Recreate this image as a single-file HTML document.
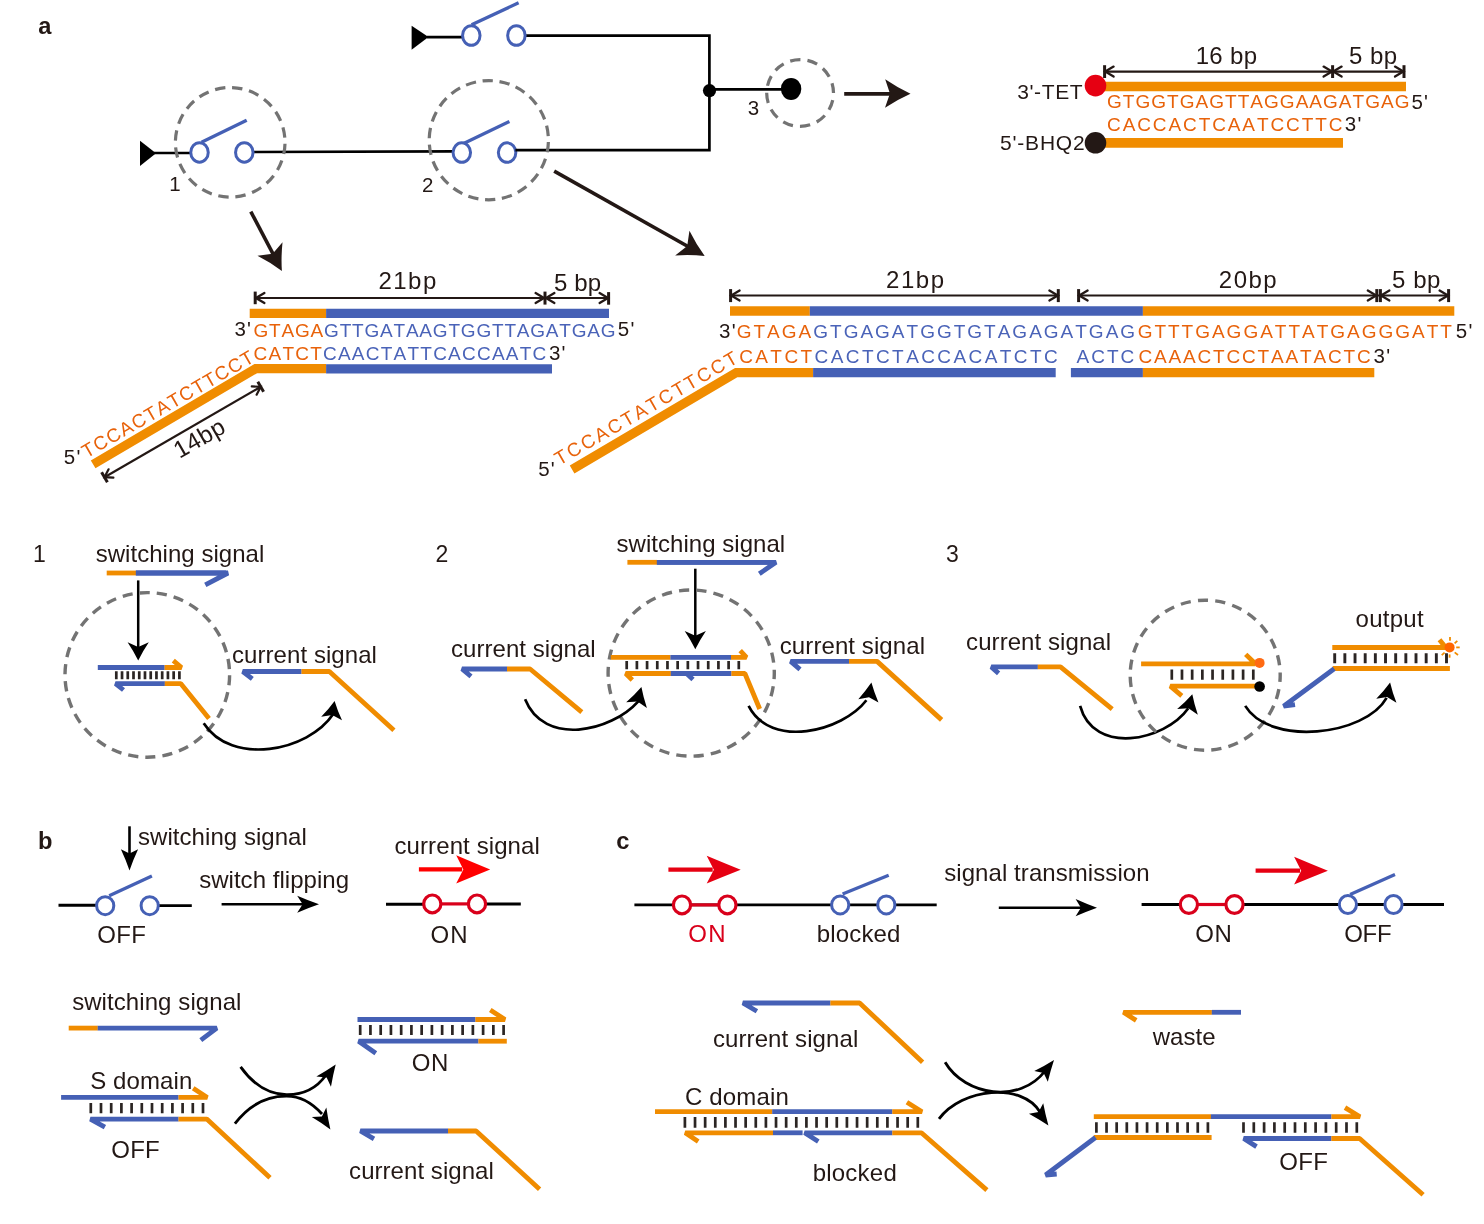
<!DOCTYPE html>
<html><head><meta charset="utf-8"><style>
html,body{margin:0;padding:0;background:#fff;}
svg{display:block;will-change:transform;font-family:"Liberation Sans",sans-serif;}
text{font-kerning:none;font-feature-settings:"kern" 0;}
</style></head><body>
<svg width="1484" height="1224" viewBox="0 0 1484 1224">
<rect width="1484" height="1224" fill="#fff"/>
<text x="38.21" y="34" font-size="23.7" fill="#231815" font-weight="bold">a</text>
<polygon points="140,140.8 156,153.2 140,166" fill="#000"/>
<line x1="154" y1="153" x2="191.2" y2="153" stroke="#000" stroke-width="2.7" stroke-linecap="butt"/>
<line x1="252.6" y1="152" x2="453.4" y2="151.3" stroke="#000" stroke-width="2.7" stroke-linecap="butt"/>
<ellipse cx="199.5" cy="152.4" rx="8.75" ry="9.75" fill="none" stroke="#4560B5" stroke-width="3"/>
<ellipse cx="244.3" cy="152.4" rx="8.75" ry="9.75" fill="none" stroke="#4560B5" stroke-width="3"/>
<line x1="201.5" y1="142.3" x2="246.7" y2="120.2" stroke="#4560B5" stroke-width="3.3" stroke-linecap="butt"/>
<circle cx="230.2" cy="142.3" r="54.8" fill="none" stroke="#737373" stroke-width="3.2" stroke-dasharray="10.4 6.82" stroke-dashoffset="15.79"/>
<text x="169.34" y="190.5" font-size="20.5" fill="#231815">1</text>
<ellipse cx="461.8" cy="152.6" rx="8.75" ry="9.75" fill="none" stroke="#4560B5" stroke-width="3"/>
<ellipse cx="507.1" cy="152.6" rx="8.75" ry="9.75" fill="none" stroke="#4560B5" stroke-width="3"/>
<line x1="463.6" y1="143.4" x2="509.4" y2="121.4" stroke="#4560B5" stroke-width="3.3" stroke-linecap="butt"/>
<polyline points="515.4,150.2 709.4,150.2 709.4,35.7 524.6,35.7" fill="none" stroke="#000" stroke-width="2.7" stroke-linecap="butt" stroke-linejoin="miter"/>
<circle cx="488.8" cy="140.2" r="59.6" fill="none" stroke="#737373" stroke-width="3.2" stroke-dasharray="10.4 6.62" stroke-dashoffset="15.23"/>
<text x="421.97" y="192.4" font-size="20.5" fill="#231815">2</text>
<polygon points="411.6,25.8 428.5,37 411.6,49.8" fill="#000"/>
<line x1="427" y1="37.2" x2="462.5" y2="37.2" stroke="#000" stroke-width="2.7" stroke-linecap="butt"/>
<ellipse cx="471.3" cy="35.5" rx="8.75" ry="9.75" fill="none" stroke="#4560B5" stroke-width="3"/>
<ellipse cx="516.4" cy="35.5" rx="8.75" ry="9.75" fill="none" stroke="#4560B5" stroke-width="3"/>
<line x1="471.6" y1="24.8" x2="518.6" y2="2.8" stroke="#4560B5" stroke-width="3.3" stroke-linecap="butt"/>
<circle cx="709.5" cy="90.6" r="6.6" fill="#000"/>
<line x1="709.5" y1="89.4" x2="782" y2="89.4" stroke="#000" stroke-width="2.7" stroke-linecap="butt"/>
<ellipse cx="791.1" cy="88.9" rx="10.2" ry="11" fill="#000"/>
<circle cx="800.1" cy="93" r="33.4" fill="none" stroke="#737373" stroke-width="3.2" stroke-dasharray="10.4 7.09" stroke-dashoffset="10.34"/>
<text x="747.72" y="114.6" font-size="20.5" fill="#231815">3</text>
<line x1="844.2" y1="93.8" x2="892" y2="93.8" stroke="#231815" stroke-width="3.7" stroke-linecap="butt"/>
<path d="M910.5,93.7Q897.77,99.32 885.02,107.8L889.93,93.58L885.18,79.3Q897.83,87.93 910.5,93.7Z" fill="#231815"/>
<line x1="250.8" y1="211.6" x2="276.5" y2="260.5" stroke="#231815" stroke-width="3.6" stroke-linecap="butt"/>
<path d="M281.9,270.9Q270.94,262.64 257.48,255.74L272.62,253.78L282.52,242.16Q280.96,257.21 281.9,270.9Z" fill="#231815"/>
<line x1="554.2" y1="171.1" x2="692" y2="248.8" stroke="#231815" stroke-width="3.6" stroke-linecap="butt"/>
<path d="M704.7,256Q690.64,254.51 675.16,255.49L687.23,245.94L689.44,230.71Q696.36,244.59 704.7,256Z" fill="#231815"/>
<line x1="255.5" y1="298" x2="608" y2="298" stroke="#231815" stroke-width="2.2" stroke-linecap="butt"/>
<line x1="255.2" y1="291.6" x2="255.2" y2="304.2" stroke="#231815" stroke-width="3" stroke-linecap="butt"/>
<line x1="545" y1="291.6" x2="545" y2="304.6" stroke="#231815" stroke-width="3" stroke-linecap="butt"/>
<line x1="608.6" y1="292.1" x2="608.6" y2="304.7" stroke="#231815" stroke-width="3" stroke-linecap="butt"/>
<polyline points="264.4,293 256,298 264.4,303" fill="none" stroke="#231815" stroke-width="2.3" stroke-linecap="round" stroke-linejoin="miter"/>
<polyline points="535.6,293 544,298 535.6,303" fill="none" stroke="#231815" stroke-width="2.3" stroke-linecap="round" stroke-linejoin="miter"/>
<polyline points="554.4,293 546,298 554.4,303" fill="none" stroke="#231815" stroke-width="2.3" stroke-linecap="round" stroke-linejoin="miter"/>
<polyline points="599.6,293 608,298 599.6,303" fill="none" stroke="#231815" stroke-width="2.3" stroke-linecap="round" stroke-linejoin="miter"/>
<text x="378.49" y="289.2" font-size="24" fill="#231815" letter-spacing="1.47">21bp</text>
<text x="553.94" y="290.7" font-size="24" fill="#231815" letter-spacing="0.12">5 bp</text>
<line x1="249.7" y1="313.4" x2="326.1" y2="313.4" stroke="#F08C00" stroke-width="9.2" stroke-linecap="butt"/>
<line x1="326.1" y1="313.4" x2="609" y2="313.4" stroke="#4560B5" stroke-width="9.2" stroke-linecap="butt"/>
<text x="234.42" y="336" font-size="20.5" fill="#231815" letter-spacing="1.3">3'</text>
<text x="253.54" y="336.5" font-size="19" letter-spacing="0.8"><tspan fill="#E8620A">GTAGA</tspan><tspan fill="#4A63B8">GTTGATAAGTGGTTAGATGAG</tspan></text>
<text x="617.78" y="336.3" font-size="20.5" fill="#231815" letter-spacing="1.3">5'</text>
<text x="253.54" y="359.6" font-size="19" letter-spacing="1.23"><tspan fill="#E8620A">CATCT</tspan><tspan fill="#4A63B8">CAACTATTCACCAATC</tspan></text>
<text x="548.92" y="359.8" font-size="20.5" fill="#231815" letter-spacing="1.3">3'</text>
<polyline points="93.15,464.4 255.7,368.7 326.1,368.7" fill="none" stroke="#F08C00" stroke-width="9.2" stroke-linecap="butt" stroke-linejoin="miter"/>
<line x1="326.1" y1="368.8" x2="552" y2="368.8" stroke="#4560B5" stroke-width="9.2" stroke-linecap="butt"/>
<text x="63.78" y="463.7" font-size="20.5" fill="#231815" letter-spacing="1.3">5'</text>
<text x="0" y="0" font-size="19" fill="#E8620A" letter-spacing="1.35" transform="translate(86.5 458.6) rotate(-30)">TCCACTATCTTCCT</text>
<line x1="104.5" y1="477.2" x2="260.7" y2="386.8" stroke="#231815" stroke-width="2.2" stroke-linecap="butt"/>
<polyline points="256.61,394.71 260.7,386.8 251.8,386.4" fill="none" stroke="#231815" stroke-width="2.2" stroke-linecap="round" stroke-linejoin="miter"/>
<polyline points="108.59,469.29 104.5,477.2 113.4,477.6" fill="none" stroke="#231815" stroke-width="2.2" stroke-linecap="round" stroke-linejoin="miter"/>
<line x1="257.79" y1="381.78" x2="263.61" y2="391.82" stroke="#231815" stroke-width="3" stroke-linecap="butt"/>
<line x1="101.59" y1="472.18" x2="107.41" y2="482.22" stroke="#231815" stroke-width="3" stroke-linecap="butt"/>
<text x="0" y="0" font-size="24" fill="#231815" letter-spacing="0.5" transform="translate(179.4 459) rotate(-30)">14bp</text>
<line x1="731" y1="295.5" x2="1058" y2="295.5" stroke="#231815" stroke-width="2.2" stroke-linecap="butt"/>
<line x1="1079" y1="295.5" x2="1448" y2="295.5" stroke="#231815" stroke-width="2.2" stroke-linecap="butt"/>
<line x1="730.6" y1="289.1" x2="730.6" y2="302.1" stroke="#231815" stroke-width="3" stroke-linecap="butt"/>
<line x1="1058.3" y1="289.1" x2="1058.3" y2="302.1" stroke="#231815" stroke-width="3" stroke-linecap="butt"/>
<line x1="1078.6" y1="289.1" x2="1078.6" y2="302.1" stroke="#231815" stroke-width="3" stroke-linecap="butt"/>
<line x1="1376.8" y1="289.1" x2="1376.8" y2="302.1" stroke="#231815" stroke-width="3" stroke-linecap="butt"/>
<line x1="1380.4" y1="289.1" x2="1380.4" y2="302.1" stroke="#231815" stroke-width="3" stroke-linecap="butt"/>
<line x1="1448.6" y1="289.1" x2="1448.6" y2="302.1" stroke="#231815" stroke-width="3" stroke-linecap="butt"/>
<polyline points="739.6,290.5 731.2,295.5 739.6,300.5" fill="none" stroke="#231815" stroke-width="2.3" stroke-linecap="round" stroke-linejoin="miter"/>
<polyline points="1049.4,290.5 1057.8,295.5 1049.4,300.5" fill="none" stroke="#231815" stroke-width="2.3" stroke-linecap="round" stroke-linejoin="miter"/>
<polyline points="1087.6,290.5 1079.2,295.5 1087.6,300.5" fill="none" stroke="#231815" stroke-width="2.3" stroke-linecap="round" stroke-linejoin="miter"/>
<polyline points="1367.8,290.5 1376.2,295.5 1367.8,300.5" fill="none" stroke="#231815" stroke-width="2.3" stroke-linecap="round" stroke-linejoin="miter"/>
<polyline points="1389.4,290.5 1381,295.5 1389.4,300.5" fill="none" stroke="#231815" stroke-width="2.3" stroke-linecap="round" stroke-linejoin="miter"/>
<polyline points="1439.6,290.5 1448,295.5 1439.6,300.5" fill="none" stroke="#231815" stroke-width="2.3" stroke-linecap="round" stroke-linejoin="miter"/>
<text x="886.09" y="287.8" font-size="24" fill="#231815" letter-spacing="1.54">21bp</text>
<text x="1218.79" y="288.1" font-size="24" fill="#231815" letter-spacing="1.51">20bp</text>
<text x="1391.94" y="288" font-size="24" fill="#231815" letter-spacing="0.59">5 bp</text>
<line x1="730" y1="311" x2="809.8" y2="311" stroke="#F08C00" stroke-width="9.4" stroke-linecap="butt"/>
<line x1="809.8" y1="311" x2="1142.9" y2="311" stroke="#4560B5" stroke-width="9.4" stroke-linecap="butt"/>
<line x1="1142.9" y1="311" x2="1454.3" y2="311" stroke="#F08C00" stroke-width="9.4" stroke-linecap="butt"/>
<text x="719.12" y="337.8" font-size="20.5" fill="#231815" letter-spacing="1.3">3'</text>
<text x="736.74" y="338.3" font-size="19" letter-spacing="2"><tspan fill="#E8620A">GTAGA</tspan><tspan fill="#4A63B8">GTGAGATGGTGTAGAGATGAG</tspan></text>
<text x="1137.64" y="338.3" font-size="19" fill="#E8620A" letter-spacing="1.99">GTTTGAGGATTATGAGGGATT</text>
<text x="1455.78" y="338.2" font-size="20.5" fill="#231815" letter-spacing="1.3">5'</text>
<text x="739.14" y="362.5" font-size="19" letter-spacing="2.42"><tspan fill="#E8620A">CATCT</tspan><tspan fill="#4A63B8">CACTCTACCACATCTC</tspan></text>
<text x="1076.56" y="362.5" font-size="19" fill="#4A63B8" letter-spacing="1.98">ACTC</text>
<text x="1138.44" y="362.5" font-size="19" fill="#E8620A" letter-spacing="1.83">CAAACTCCTAATACTC</text>
<text x="1373.52" y="362.6" font-size="20.5" fill="#231815" letter-spacing="1.3">3'</text>
<polyline points="572.1,469.55 736.3,372.6 813.1,372.6" fill="none" stroke="#F08C00" stroke-width="9.2" stroke-linecap="butt" stroke-linejoin="miter"/>
<line x1="813.1" y1="372.6" x2="1055.7" y2="372.6" stroke="#4560B5" stroke-width="9.2" stroke-linecap="butt"/>
<line x1="1070.9" y1="372.6" x2="1142.9" y2="372.6" stroke="#4560B5" stroke-width="9.2" stroke-linecap="butt"/>
<line x1="1142.9" y1="372.6" x2="1374.3" y2="372.6" stroke="#F08C00" stroke-width="9.2" stroke-linecap="butt"/>
<text x="538.18" y="475.9" font-size="20.5" fill="#231815" letter-spacing="1.3">5'</text>
<text x="0" y="0" font-size="19" fill="#E8620A" letter-spacing="2.33" transform="translate(559.2 465.8) rotate(-30)">TCCACTATCTTCCT</text>
<line x1="1105" y1="71.6" x2="1404" y2="71.6" stroke="#231815" stroke-width="2.2" stroke-linecap="butt"/>
<line x1="1104.6" y1="65.2" x2="1104.6" y2="78" stroke="#231815" stroke-width="3" stroke-linecap="butt"/>
<line x1="1332.6" y1="65.2" x2="1332.6" y2="78" stroke="#231815" stroke-width="3" stroke-linecap="butt"/>
<line x1="1404" y1="65.2" x2="1404" y2="78" stroke="#231815" stroke-width="3" stroke-linecap="butt"/>
<polyline points="1113.6,66.6 1105.2,71.6 1113.6,76.6" fill="none" stroke="#231815" stroke-width="2.3" stroke-linecap="round" stroke-linejoin="miter"/>
<polyline points="1323.6,66.6 1332,71.6 1323.6,76.6" fill="none" stroke="#231815" stroke-width="2.3" stroke-linecap="round" stroke-linejoin="miter"/>
<polyline points="1341.6,66.6 1333.2,71.6 1341.6,76.6" fill="none" stroke="#231815" stroke-width="2.3" stroke-linecap="round" stroke-linejoin="miter"/>
<polyline points="1395,66.6 1403.4,71.6 1395,76.6" fill="none" stroke="#231815" stroke-width="2.3" stroke-linecap="round" stroke-linejoin="miter"/>
<text x="1195.67" y="63.7" font-size="24" fill="#231815" letter-spacing="0.32">16 bp</text>
<text x="1349.04" y="63.7" font-size="24" fill="#231815" letter-spacing="0.42">5 bp</text>
<line x1="1095.5" y1="86.5" x2="1406" y2="86.5" stroke="#F08C00" stroke-width="9.6" stroke-linecap="butt"/>
<circle cx="1095.5" cy="85.6" r="10.8" fill="#E60012"/>
<text x="1017.2" y="98.9" font-size="21" fill="#231815" letter-spacing="0.61">3'-TET</text>
<text x="1107.04" y="108.3" font-size="19" fill="#E8620A" letter-spacing="1.03">GTGGTGAGTTAGGAAGATGAG</text>
<text x="1411.38" y="108.5" font-size="20.5" fill="#231815" letter-spacing="1.3">5'</text>
<text x="1107.04" y="130.8" font-size="19" fill="#E8620A" letter-spacing="1.9">CACCACTCAATCCTTC</text>
<text x="1344.72" y="131.2" font-size="20.5" fill="#231815" letter-spacing="1.3">3'</text>
<line x1="1095.5" y1="142.9" x2="1343" y2="142.9" stroke="#F08C00" stroke-width="9.6" stroke-linecap="butt"/>
<circle cx="1095.5" cy="142.8" r="10.8" fill="#231815"/>
<text x="1000.06" y="149.5" font-size="21" fill="#231815" letter-spacing="0.79">5'-BHQ2</text>
<text x="33.05" y="562.4" font-size="23" fill="#231815">1</text>
<text x="95.73" y="562.4" font-size="24" fill="#231815" letter-spacing="0.03">switching signal</text>
<line x1="106.7" y1="573" x2="136" y2="573" stroke="#F08C00" stroke-width="4.8" stroke-linecap="butt"/>
<line x1="135.9" y1="573" x2="226" y2="573" stroke="#4560B5" stroke-width="4.8" stroke-linecap="butt"/>
<polyline points="135.9,573 228,573 205.3,584.9" fill="none" stroke="#4560B5" stroke-width="4.8" stroke-linecap="butt" stroke-linejoin="bevel"/>
<line x1="138.2" y1="580.4" x2="138.2" y2="649.52" stroke="#000" stroke-width="2.5" stroke-linecap="butt"/>
<path d="M138.2,660.5Q133.75,651.35 127.6,642.2L138.2,646.96L148.8,642.2Q142.65,651.35 138.2,660.5Z" fill="#000"/>
<circle cx="147.3" cy="674.9" r="82.3" fill="none" stroke="#737373" stroke-width="3.4" stroke-dasharray="10.2 7.04" stroke-dashoffset="17"/>
<line x1="97.8" y1="667.5" x2="164.7" y2="667.5" stroke="#4560B5" stroke-width="4.8" stroke-linecap="butt"/>
<polyline points="164.6,667.5 181.5,667.5 173.3,660.6" fill="none" stroke="#F08C00" stroke-width="4.8" stroke-linecap="butt" stroke-linejoin="bevel"/>
<path d="M116.3,671.3V679.3 M122.04,671.3V679.3 M127.77,671.3V679.3 M133.51,671.3V679.3 M139.25,671.3V679.3 M144.98,671.3V679.3 M150.72,671.3V679.3 M156.45,671.3V679.3 M162.19,671.3V679.3 M167.93,671.3V679.3 M173.66,671.3V679.3 M179.4,671.3V679.3" stroke="#2B2523" stroke-width="2.7" fill="none"/>
<polyline points="123.5,690 115.5,683.6 164.9,683.6" fill="none" stroke="#4560B5" stroke-width="4.8" stroke-linecap="butt" stroke-linejoin="bevel"/>
<polyline points="164.8,683.6 180.7,683.6 209,718.4" fill="none" stroke="#F08C00" stroke-width="4.8" stroke-linecap="butt" stroke-linejoin="bevel"/>
<text x="231.98" y="663.3" font-size="24" fill="#231815" letter-spacing="0.07">current signal</text>
<polyline points="252.3,678.9 242.8,671.5 301.6,671.5" fill="none" stroke="#4560B5" stroke-width="4.8" stroke-linecap="butt" stroke-linejoin="bevel"/>
<polyline points="301.5,671.5 329.4,671.5 393.9,730.3" fill="none" stroke="#F08C00" stroke-width="4.8" stroke-linecap="butt" stroke-linejoin="bevel"/>
<path d="M203.7,723.2C231.4,766.4 308.5,751.4 333.2,714.1" fill="none" stroke="#000" stroke-width="2.7" stroke-linecap="butt"/>
<path d="M334.6,700.9Q337.47,710.47 342.01,720.32L332.2,715.02L321.19,716.78Q328.73,708.98 334.6,700.9Z" fill="#000"/>
<text x="435.44" y="562" font-size="23" fill="#231815">2</text>
<text x="616.53" y="552.2" font-size="24" fill="#231815" letter-spacing="0.04">switching signal</text>
<line x1="627.4" y1="562.3" x2="657" y2="562.3" stroke="#F08C00" stroke-width="4.8" stroke-linecap="butt"/>
<line x1="656.9" y1="562.3" x2="770" y2="562.3" stroke="#4560B5" stroke-width="4.8" stroke-linecap="butt"/>
<polyline points="656.9,562.3 776,562.3 759.3,573.8" fill="none" stroke="#4560B5" stroke-width="4.8" stroke-linecap="butt" stroke-linejoin="bevel"/>
<line x1="695.3" y1="568.7" x2="695.3" y2="638.32" stroke="#000" stroke-width="2.5" stroke-linecap="butt"/>
<path d="M695.3,649.3Q690.85,640.15 684.7,631L695.3,635.76L705.9,631Q699.75,640.15 695.3,649.3Z" fill="#000"/>
<circle cx="691.2" cy="673.1" r="83.1" fill="none" stroke="#737373" stroke-width="3.4" stroke-dasharray="10.2 7.2" stroke-dashoffset="4.1"/>
<text x="450.98" y="656.7" font-size="24" fill="#231815" letter-spacing="0.05">current signal</text>
<polyline points="471,676.3 462,669 507.1,669" fill="none" stroke="#4560B5" stroke-width="4.8" stroke-linecap="butt" stroke-linejoin="bevel"/>
<polyline points="507,669 530.1,669 581.8,712.2" fill="none" stroke="#F08C00" stroke-width="4.8" stroke-linecap="butt" stroke-linejoin="bevel"/>
<path d="M525.1,699.3C544.1,746.7 610.9,731.9 638.3,701.3" fill="none" stroke="#000" stroke-width="2.7" stroke-linecap="butt"/>
<path d="M641.4,687.1Q643.32,697.27 646.9,707.89L637.52,701.5L626.2,702.31Q634.63,694.93 641.4,687.1Z" fill="#000"/>
<line x1="610.8" y1="657.4" x2="670.5" y2="657.4" stroke="#F08C00" stroke-width="4.8" stroke-linecap="butt"/>
<line x1="670.4" y1="657.4" x2="731.1" y2="657.4" stroke="#4560B5" stroke-width="4.8" stroke-linecap="butt"/>
<polyline points="731,657.4 746.5,657.4 740.2,650.6" fill="none" stroke="#F08C00" stroke-width="4.8" stroke-linecap="butt" stroke-linejoin="bevel"/>
<path d="M626.7,661V669.2 M636.89,661V669.2 M647.08,661V669.2 M657.27,661V669.2 M667.46,661V669.2 M677.65,661V669.2 M687.85,661V669.2 M698.04,661V669.2 M708.23,661V669.2 M718.42,661V669.2 M728.61,661V669.2 M738.8,661V669.2" stroke="#2B2523" stroke-width="2.7" fill="none"/>
<polyline points="632.3,680 625.7,673.5 670.9,673.5" fill="none" stroke="#F08C00" stroke-width="4.8" stroke-linecap="butt" stroke-linejoin="bevel"/>
<line x1="670.8" y1="673.5" x2="731.5" y2="673.5" stroke="#4560B5" stroke-width="4.8" stroke-linecap="butt"/>
<polyline points="693,679.4 686.6,673.5" fill="none" stroke="#4560B5" stroke-width="4.8" stroke-linecap="butt" stroke-linejoin="bevel"/>
<polyline points="731.4,673.5 744.9,673.5 759.7,709" fill="none" stroke="#F08C00" stroke-width="4.8" stroke-linecap="butt" stroke-linejoin="bevel"/>
<text x="779.78" y="653.7" font-size="24" fill="#231815" letter-spacing="0.09">current signal</text>
<polyline points="800,669.3 790.6,661.4 849.1,661.4" fill="none" stroke="#4560B5" stroke-width="4.8" stroke-linecap="butt" stroke-linejoin="bevel"/>
<polyline points="849,661.4 877.1,661.4 941.6,719.9" fill="none" stroke="#F08C00" stroke-width="4.8" stroke-linecap="butt" stroke-linejoin="bevel"/>
<path d="M748.6,705.9C770.3,749.2 842.4,731.6 866.4,700.3" fill="none" stroke="#000" stroke-width="2.7" stroke-linecap="butt"/>
<path d="M871.4,682.6Q874.13,692.4 878.47,702.46L869,697.16L858.33,699.14Q865.67,691 871.4,682.6Z" fill="#000"/>
<text x="945.92" y="562.3" font-size="23" fill="#231815">3</text>
<text x="966.08" y="650.2" font-size="24" fill="#231815" letter-spacing="0.07">current signal</text>
<polyline points="998.6,673.4 991.3,666.9 1037.9,666.9" fill="none" stroke="#4560B5" stroke-width="4.8" stroke-linecap="butt" stroke-linejoin="bevel"/>
<polyline points="1037.8,666.9 1060.5,666.9 1112.2,709.2" fill="none" stroke="#F08C00" stroke-width="4.8" stroke-linecap="butt" stroke-linejoin="bevel"/>
<path d="M1080.1,705.8C1093.7,755.6 1164.6,741.4 1188.3,708.3" fill="none" stroke="#000" stroke-width="2.7" stroke-linecap="butt"/>
<path d="M1192.3,694.2Q1194.24,704.21 1197.83,714.66L1188.46,708.32L1177.17,709.04Q1185.56,701.84 1192.3,694.2Z" fill="#000"/>
<circle cx="1205.2" cy="675.2" r="75" fill="none" stroke="#737373" stroke-width="3.4" stroke-dasharray="10.2 7.25" stroke-dashoffset="3.45"/>
<polyline points="1141.1,663.8 1255.4,663.8 1245.7,654.4" fill="none" stroke="#F08C00" stroke-width="4.8" stroke-linecap="butt" stroke-linejoin="bevel"/>
<circle cx="1259.6" cy="662.9" r="5" fill="#FF6A13"/>
<path d="M1171.8,669.4V679.8 M1181.99,669.4V679.8 M1192.17,669.4V679.8 M1202.36,669.4V679.8 M1212.55,669.4V679.8 M1222.74,669.4V679.8 M1232.92,669.4V679.8 M1243.11,669.4V679.8 M1253.3,669.4V679.8" stroke="#2B2523" stroke-width="2.7" fill="none"/>
<polyline points="1181.8,695.8 1170.3,686.2 1259.6,686.2" fill="none" stroke="#F08C00" stroke-width="4.8" stroke-linecap="butt" stroke-linejoin="bevel"/>
<circle cx="1259.6" cy="686.5" r="5.3" fill="#000"/>
<path d="M1245.2,705.9C1270.0,746.5 1365.1,735.9 1386.6,697.9" fill="none" stroke="#000" stroke-width="2.7" stroke-linecap="butt"/>
<path d="M1390.1,682.4Q1392.47,692.46 1396.45,702.86L1387.1,697.12L1376.25,698.74Q1383.98,690.74 1390.1,682.4Z" fill="#000"/>
<text x="1355.59" y="627.3" font-size="24" fill="#231815" letter-spacing="0.25">output</text>
<polyline points="1332.3,647.5 1445.7,647.5 1439.5,639.7" fill="none" stroke="#F08C00" stroke-width="4.8" stroke-linecap="butt" stroke-linejoin="bevel"/>
<circle cx="1449.6" cy="647.4" r="5" fill="#FF6600"/>
<line x1="1450" y1="637.1" x2="1450" y2="640.8" stroke="#F08C00" stroke-width="1.8" stroke-linecap="butt"/>
<line x1="1454.6" y1="643.4" x2="1457.3" y2="640.8" stroke="#F08C00" stroke-width="1.8" stroke-linecap="butt"/>
<line x1="1456.2" y1="647.4" x2="1459.7" y2="647.4" stroke="#F08C00" stroke-width="1.8" stroke-linecap="butt"/>
<line x1="1454.7" y1="652.4" x2="1458" y2="655" stroke="#F08C00" stroke-width="1.8" stroke-linecap="butt"/>
<line x1="1449.6" y1="654.4" x2="1449.6" y2="657.7" stroke="#F08C00" stroke-width="1.8" stroke-linecap="butt"/>
<line x1="1444.6" y1="652.6" x2="1441.7" y2="655.1" stroke="#F08C00" stroke-width="1.8" stroke-linecap="butt"/>
<path d="M1334.7,653.2V663.2 M1344.86,653.2V663.2 M1355.03,653.2V663.2 M1365.19,653.2V663.2 M1375.35,653.2V663.2 M1385.52,653.2V663.2 M1395.68,653.2V663.2 M1405.85,653.2V663.2 M1416.01,653.2V663.2 M1426.17,653.2V663.2 M1436.34,653.2V663.2 M1446.5,653.2V663.2" stroke="#2B2523" stroke-width="2.9" fill="none"/>
<line x1="1332.7" y1="668.5" x2="1449.9" y2="668.5" stroke="#F08C00" stroke-width="4.8" stroke-linecap="butt"/>
<polyline points="1295,704.6 1283.6,706.2 1334.2,668.8" fill="none" stroke="#4560B5" stroke-width="4.8" stroke-linecap="butt" stroke-linejoin="bevel"/>
<text x="37.94" y="849.1" font-size="23.7" fill="#231815" font-weight="bold">b</text>
<line x1="129.5" y1="826.3" x2="129.5" y2="857.82" stroke="#000" stroke-width="2.6" stroke-linecap="butt"/>
<path d="M129.5,870.6Q125.89,859.95 120.9,849.3L129.5,853.56L138.1,849.3Q133.11,859.95 129.5,870.6Z" fill="#000"/>
<text x="138.03" y="844.5" font-size="24" fill="#231815" letter-spacing="0.05">switching signal</text>
<line x1="58.5" y1="905.2" x2="96.6" y2="905.2" stroke="#000" stroke-width="2.9" stroke-linecap="butt"/>
<line x1="157.5" y1="905.6" x2="191.8" y2="905.6" stroke="#000" stroke-width="2.9" stroke-linecap="butt"/>
<ellipse cx="105.2" cy="905.7" rx="8.6" ry="9" fill="none" stroke="#4560B5" stroke-width="3"/>
<ellipse cx="149.7" cy="905.7" rx="8.6" ry="9" fill="none" stroke="#4560B5" stroke-width="3"/>
<line x1="109.2" y1="895.8" x2="151.9" y2="876.1" stroke="#4560B5" stroke-width="3.3" stroke-linecap="butt"/>
<text x="97.16" y="942.6" font-size="24" fill="#231815" letter-spacing="0.35">OFF</text>
<text x="199.13" y="887.6" font-size="24" fill="#231815" letter-spacing="0.04">switch flipping</text>
<line x1="221.6" y1="904.2" x2="305" y2="904.2" stroke="#000" stroke-width="2.6" stroke-linecap="butt"/>
<path d="M319,904.2Q308.1,907.92 297.2,912.65L302.65,904.2L297.2,895.75Q308.1,900.48 319,904.2Z" fill="#000"/>
<text x="394.48" y="854" font-size="24" fill="#231815" letter-spacing="0.1">current signal</text>
<line x1="418.9" y1="869.4" x2="462.2" y2="869.4" stroke="#FF0000" stroke-width="4.2" stroke-linecap="butt"/>
<path d="M490.2,869.4Q473.2,876.19 456.2,883.55L463.34,869.4L456.2,855.25Q473.2,862.61 490.2,869.4Z" fill="#FF0000"/>
<line x1="386" y1="904.3" x2="424" y2="904.3" stroke="#000" stroke-width="2.9" stroke-linecap="butt"/>
<line x1="485" y1="904" x2="520.8" y2="904" stroke="#000" stroke-width="2.9" stroke-linecap="butt"/>
<line x1="440.9" y1="903.9" x2="468.4" y2="903.9" stroke="#D9001B" stroke-width="3.2" stroke-linecap="butt"/>
<ellipse cx="432.3" cy="903.9" rx="8.6" ry="8.9" fill="#fff" stroke="#D9001B" stroke-width="3.2"/>
<ellipse cx="477" cy="903.9" rx="8.6" ry="8.9" fill="#fff" stroke="#D9001B" stroke-width="3.2"/>
<text x="430.56" y="943.1" font-size="24" fill="#231815" letter-spacing="1.09">ON</text>
<text x="72.13" y="1009.7" font-size="24" fill="#231815" letter-spacing="0.08">switching signal</text>
<line x1="68.7" y1="1028.1" x2="97.8" y2="1028.1" stroke="#F08C00" stroke-width="4.8" stroke-linecap="butt"/>
<polyline points="97.7,1028.1 216.8,1028.1 200.8,1040.2" fill="none" stroke="#4560B5" stroke-width="4.8" stroke-linecap="butt" stroke-linejoin="bevel"/>
<text x="90.21" y="1088.9" font-size="24" fill="#231815" letter-spacing="0.11">S domain</text>
<line x1="61.1" y1="1097.4" x2="178.6" y2="1097.4" stroke="#4560B5" stroke-width="4.8" stroke-linecap="butt"/>
<polyline points="178.5,1097.4 207.3,1097.4 193.2,1088.3" fill="none" stroke="#F08C00" stroke-width="4.8" stroke-linecap="butt" stroke-linejoin="bevel"/>
<path d="M90.8,1103V1113.2 M101,1103V1113.2 M111.2,1103V1113.2 M121.4,1103V1113.2 M131.6,1103V1113.2 M141.8,1103V1113.2 M152,1103V1113.2 M162.2,1103V1113.2 M172.4,1103V1113.2 M182.6,1103V1113.2 M192.8,1103V1113.2 M203,1103V1113.2" stroke="#2B2523" stroke-width="2.7" fill="none"/>
<polyline points="104.9,1127.2 90.4,1119.1 178.6,1119.1" fill="none" stroke="#4560B5" stroke-width="4.8" stroke-linecap="butt" stroke-linejoin="bevel"/>
<polyline points="178.5,1119.1 206.8,1119.1 270,1177.7" fill="none" stroke="#F08C00" stroke-width="4.8" stroke-linecap="butt" stroke-linejoin="bevel"/>
<text x="111.36" y="1158.2" font-size="24" fill="#231815" letter-spacing="0.15">OFF</text>
<path d="M240.6,1066.9Q260,1094 286.4,1094.6Q312,1095 326,1075" fill="none" stroke="#000" stroke-width="2.8" stroke-linecap="butt"/>
<path d="M335.7,1064.6Q332.89,1075.4 330.95,1086.81L326.66,1077.39L316.35,1076.49Q326.46,1070.85 335.7,1064.6Z" fill="#000"/>
<path d="M234.9,1123.7Q256,1096 286.4,1096.1Q306,1096 322,1114" fill="none" stroke="#000" stroke-width="2.8" stroke-linecap="butt"/>
<path d="M330.4,1129.4Q321.52,1122.94 311.77,1117.07L321.89,1116.54L326.33,1107.43Q327.93,1118.71 330.4,1129.4Z" fill="#000"/>
<line x1="357.5" y1="1019.5" x2="475.5" y2="1019.5" stroke="#4560B5" stroke-width="4.8" stroke-linecap="butt"/>
<polyline points="475.4,1019.5 505,1019.5 490.3,1010.1" fill="none" stroke="#F08C00" stroke-width="4.8" stroke-linecap="butt" stroke-linejoin="bevel"/>
<path d="M360.2,1025V1035 M370.44,1025V1035 M380.69,1025V1035 M390.93,1025V1035 M401.17,1025V1035 M411.41,1025V1035 M421.66,1025V1035 M431.9,1025V1035 M442.14,1025V1035 M452.39,1025V1035 M462.63,1025V1035 M472.87,1025V1035 M483.11,1025V1035 M493.36,1025V1035 M503.6,1025V1035" stroke="#2B2523" stroke-width="2.7" fill="none"/>
<polyline points="375.8,1053.3 358.6,1041.2 478.5,1041.2" fill="none" stroke="#4560B5" stroke-width="4.8" stroke-linecap="butt" stroke-linejoin="bevel"/>
<line x1="478.4" y1="1041.2" x2="506.8" y2="1041.2" stroke="#F08C00" stroke-width="4.8" stroke-linecap="butt"/>
<text x="411.76" y="1070.9" font-size="24" fill="#231815" letter-spacing="0.49">ON</text>
<polyline points="374,1138.8 360.4,1131 448.1,1131" fill="none" stroke="#4560B5" stroke-width="4.8" stroke-linecap="butt" stroke-linejoin="bevel"/>
<polyline points="448,1131 476.1,1131 539.6,1189.2" fill="none" stroke="#F08C00" stroke-width="4.8" stroke-linecap="butt" stroke-linejoin="bevel"/>
<text x="349.08" y="1179.2" font-size="24" fill="#231815" letter-spacing="0.05">current signal</text>
<text x="616.17" y="848.6" font-size="23.7" fill="#231815" font-weight="bold">c</text>
<line x1="668.4" y1="869.7" x2="712.7" y2="869.7" stroke="#E60012" stroke-width="4.2" stroke-linecap="butt"/>
<path d="M740.7,869.7Q723.7,876.35 706.7,883.55L713.84,869.7L706.7,855.85Q723.7,863.05 740.7,869.7Z" fill="#E60012"/>
<line x1="634.4" y1="904.9" x2="936.7" y2="904.9" stroke="#000" stroke-width="2.9" stroke-linecap="butt"/>
<line x1="690.6" y1="904.9" x2="718.8" y2="904.9" stroke="#D9001B" stroke-width="3.2" stroke-linecap="butt"/>
<ellipse cx="682" cy="904.9" rx="8.6" ry="8.9" fill="#fff" stroke="#D9001B" stroke-width="3.2"/>
<ellipse cx="727.4" cy="904.9" rx="8.6" ry="8.9" fill="#fff" stroke="#D9001B" stroke-width="3.2"/>
<ellipse cx="840.2" cy="904.9" rx="8.6" ry="9" fill="#fff"/>
<ellipse cx="886.3" cy="904.9" rx="8.6" ry="9" fill="#fff"/>
<ellipse cx="840.2" cy="904.9" rx="8.6" ry="9" fill="none" stroke="#4560B5" stroke-width="3"/>
<ellipse cx="886.3" cy="904.9" rx="8.6" ry="9" fill="none" stroke="#4560B5" stroke-width="3"/>
<line x1="842.6" y1="894" x2="888.7" y2="875.3" stroke="#4560B5" stroke-width="3.3" stroke-linecap="butt"/>
<text x="688.16" y="941.8" font-size="24" fill="#D9001B" letter-spacing="1.49">ON</text>
<text x="816.75" y="941.8" font-size="24" fill="#231815" letter-spacing="0.16">blocked</text>
<text x="944.23" y="881.4" font-size="24" fill="#231815" letter-spacing="0.07">signal transmission</text>
<line x1="998.8" y1="907.7" x2="1082" y2="907.7" stroke="#000" stroke-width="2.6" stroke-linecap="butt"/>
<path d="M1097,907.7Q1086.3,911.51 1075.6,916.35L1080.95,907.7L1075.6,899.05Q1086.3,903.89 1097,907.7Z" fill="#000"/>
<line x1="1141.6" y1="904.5" x2="1444" y2="904.5" stroke="#000" stroke-width="2.9" stroke-linecap="butt"/>
<line x1="1197.5" y1="904.5" x2="1225.9" y2="904.5" stroke="#D9001B" stroke-width="3.2" stroke-linecap="butt"/>
<ellipse cx="1188.9" cy="904.5" rx="8.6" ry="8.9" fill="#fff" stroke="#D9001B" stroke-width="3.2"/>
<ellipse cx="1234.5" cy="904.5" rx="8.6" ry="8.9" fill="#fff" stroke="#D9001B" stroke-width="3.2"/>
<ellipse cx="1347.9" cy="904.5" rx="8.6" ry="9" fill="#fff"/>
<ellipse cx="1393.5" cy="904.5" rx="8.6" ry="9" fill="#fff"/>
<ellipse cx="1347.9" cy="904.5" rx="8.6" ry="9" fill="none" stroke="#4560B5" stroke-width="3"/>
<ellipse cx="1393.5" cy="904.5" rx="8.6" ry="9" fill="none" stroke="#4560B5" stroke-width="3"/>
<line x1="1350.1" y1="894.5" x2="1395" y2="874.5" stroke="#4560B5" stroke-width="3.3" stroke-linecap="butt"/>
<line x1="1255.6" y1="870.7" x2="1300.1" y2="870.7" stroke="#E60012" stroke-width="4.2" stroke-linecap="butt"/>
<path d="M1327.9,870.7Q1311,877.37 1294.1,884.6L1301.2,870.7L1294.1,856.8Q1311,864.03 1327.9,870.7Z" fill="#E60012"/>
<text x="1195.16" y="942.2" font-size="24" fill="#231815" letter-spacing="0.79">ON</text>
<text x="1344.16" y="942.2" font-size="24" fill="#231815" letter-spacing="-0.3">OFF</text>
<polyline points="756.9,1011.3 742.9,1003 830.5,1003" fill="none" stroke="#4560B5" stroke-width="4.8" stroke-linecap="butt" stroke-linejoin="bevel"/>
<polyline points="830.4,1003 859.6,1003 922.6,1062.2" fill="none" stroke="#F08C00" stroke-width="4.8" stroke-linecap="butt" stroke-linejoin="bevel"/>
<text x="712.98" y="1046.5" font-size="24" fill="#231815" letter-spacing="0.09">current signal</text>
<text x="684.88" y="1104.7" font-size="24" fill="#231815" letter-spacing="0.18">C domain</text>
<line x1="655" y1="1111.7" x2="772.3" y2="1111.7" stroke="#F08C00" stroke-width="4.8" stroke-linecap="butt"/>
<line x1="772.2" y1="1111.7" x2="892.4" y2="1111.7" stroke="#4560B5" stroke-width="4.8" stroke-linecap="butt"/>
<polyline points="892.3,1111.7 922,1111.7 906.9,1102.3" fill="none" stroke="#F08C00" stroke-width="4.8" stroke-linecap="butt" stroke-linejoin="bevel"/>
<path d="M684.9,1117.1V1127.7 M695.03,1117.1V1127.7 M705.15,1117.1V1127.7 M715.28,1117.1V1127.7 M725.4,1117.1V1127.7 M735.53,1117.1V1127.7 M745.66,1117.1V1127.7 M755.78,1117.1V1127.7 M765.91,1117.1V1127.7 M776.03,1117.1V1127.7 M786.16,1117.1V1127.7 M796.29,1117.1V1127.7 M806.41,1117.1V1127.7 M816.54,1117.1V1127.7 M826.67,1117.1V1127.7 M836.79,1117.1V1127.7 M846.92,1117.1V1127.7 M857.04,1117.1V1127.7 M867.17,1117.1V1127.7 M877.3,1117.1V1127.7 M887.42,1117.1V1127.7 M897.55,1117.1V1127.7 M907.67,1117.1V1127.7 M917.8,1117.1V1127.7" stroke="#2B2523" stroke-width="2.7" fill="none"/>
<polyline points="698.2,1141.5 685.2,1132.8 773.1,1132.8" fill="none" stroke="#F08C00" stroke-width="4.8" stroke-linecap="butt" stroke-linejoin="bevel"/>
<line x1="773" y1="1132.8" x2="802.6" y2="1132.8" stroke="#4560B5" stroke-width="4.8" stroke-linecap="butt"/>
<polyline points="818.3,1141.5 804.6,1132.8 892.4,1132.8" fill="none" stroke="#4560B5" stroke-width="4.8" stroke-linecap="butt" stroke-linejoin="bevel"/>
<polyline points="892.3,1132.8 921.4,1132.8 986.9,1190.1" fill="none" stroke="#F08C00" stroke-width="4.8" stroke-linecap="butt" stroke-linejoin="bevel"/>
<text x="812.65" y="1181.1" font-size="24" fill="#231815" letter-spacing="0.23">blocked</text>
<path d="M945.1,1062.3C965,1096 1020,1104 1045,1071" fill="none" stroke="#000" stroke-width="2.8" stroke-linecap="butt"/>
<path d="M1054,1059.9Q1050.5,1070.49 1047.82,1081.71L1043.64,1073.1L1034.28,1071.09Q1044.55,1065.81 1054,1059.9Z" fill="#000"/>
<path d="M939.0,1118.9C962,1088 1022,1082 1040,1112" fill="none" stroke="#000" stroke-width="2.8" stroke-linecap="butt"/>
<path d="M1048.4,1125.5Q1039.11,1119.27 1028.97,1113.66L1038.56,1111.9L1043.23,1103.34Q1045.39,1114.73 1048.4,1125.5Z" fill="#000"/>
<polyline points="1136.2,1020.4 1123.4,1012.3 1211.9,1012.3" fill="none" stroke="#F08C00" stroke-width="4.8" stroke-linecap="butt" stroke-linejoin="bevel"/>
<line x1="1211.8" y1="1012.3" x2="1241" y2="1012.3" stroke="#4560B5" stroke-width="4.8" stroke-linecap="butt"/>
<text x="1152.74" y="1045.3" font-size="24" fill="#231815" letter-spacing="0.03">waste</text>
<line x1="1093.8" y1="1116.7" x2="1211" y2="1116.7" stroke="#F08C00" stroke-width="4.8" stroke-linecap="butt"/>
<line x1="1210.9" y1="1116.7" x2="1331.5" y2="1116.7" stroke="#4560B5" stroke-width="4.8" stroke-linecap="butt"/>
<polyline points="1331.4,1116.7 1360,1116.7 1345,1107.6" fill="none" stroke="#F08C00" stroke-width="4.8" stroke-linecap="butt" stroke-linejoin="bevel"/>
<path d="M1096.4,1122.3V1132.7 M1106.54,1122.3V1132.7 M1116.67,1122.3V1132.7 M1126.81,1122.3V1132.7 M1136.95,1122.3V1132.7 M1147.08,1122.3V1132.7 M1157.22,1122.3V1132.7 M1167.35,1122.3V1132.7 M1177.49,1122.3V1132.7 M1187.63,1122.3V1132.7 M1197.76,1122.3V1132.7 M1207.9,1122.3V1132.7" stroke="#2B2523" stroke-width="2.7" fill="none"/>
<path d="M1243.5,1122.3V1132.7 M1253.8,1122.3V1132.7 M1264.1,1122.3V1132.7 M1274.4,1122.3V1132.7 M1284.7,1122.3V1132.7 M1295,1122.3V1132.7 M1305.3,1122.3V1132.7 M1315.6,1122.3V1132.7 M1325.9,1122.3V1132.7 M1336.2,1122.3V1132.7 M1346.5,1122.3V1132.7 M1356.8,1122.3V1132.7" stroke="#2B2523" stroke-width="2.7" fill="none"/>
<line x1="1093.8" y1="1137.5" x2="1211.6" y2="1137.5" stroke="#F08C00" stroke-width="4.8" stroke-linecap="butt"/>
<polyline points="1056.7,1174 1045.6,1175 1095.5,1137.5" fill="none" stroke="#4560B5" stroke-width="4.8" stroke-linecap="butt" stroke-linejoin="bevel"/>
<polyline points="1256.5,1146.6 1243.7,1138.5 1331.5,1138.5" fill="none" stroke="#4560B5" stroke-width="4.8" stroke-linecap="butt" stroke-linejoin="bevel"/>
<polyline points="1331.4,1138.5 1359.6,1138.5 1423.1,1194.7" fill="none" stroke="#F08C00" stroke-width="4.8" stroke-linecap="butt" stroke-linejoin="bevel"/>
<text x="1279.36" y="1169.7" font-size="24" fill="#231815" letter-spacing="0.25">OFF</text>
</svg></body></html>
